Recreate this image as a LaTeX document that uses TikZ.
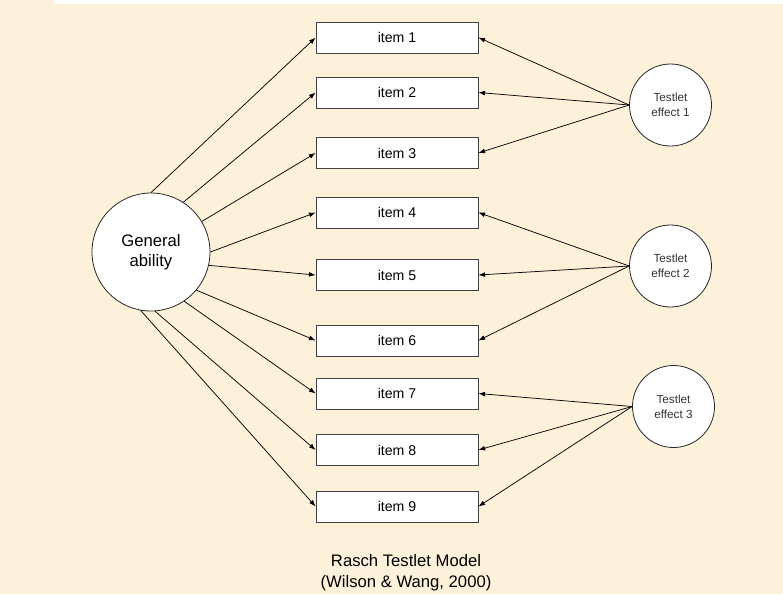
\documentclass[tikz,border=0pt]{standalone}
\usepackage{fontspec}
\setmainfont{Liberation Sans}
\definecolor{paperBeige}{HTML}{FDF1DA}
\usetikzlibrary{arrows.meta, positioning}

\begin{document}
\begin{tikzpicture}[x=0.75pt, y=-0.75pt,
    itembox/.style={draw=black!75, fill=white, line width=0.6pt,
      minimum width=121.5pt, minimum height=23.25pt, inner sep=0pt,
      font=\fontsize{10.6}{12}\selectfont},
    abilitycirc/.style={circle, draw=black!85, fill=white, line width=0.6pt,
      minimum size=88.5pt, inner sep=0pt, align=center,
      font=\fontsize{12.5}{15}\selectfont},
    testletcirc/.style={circle, draw=black!85, fill=white, line width=0.6pt,
      minimum size=61.5pt, inner sep=0pt, align=center, text=black!80,
      font=\fontsize{8.8}{11.2}\selectfont},
    link/.style={line width=0.55pt, -{Latex[length=5pt, width=3.6pt]}}]
    % page and background
    \useasboundingbox (0,0) rectangle (783,594);
    \fill[paperBeige] (0,0) rectangle (783,594);
    \fill[white] (54,0) rectangle (783,4);

    % items
    \foreach \i/\y in {1/37.5, 2/92.5, 3/153, 4/212.5, 5/275,
        6/340.5, 7/393.5, 8/450, 9/506.5}
      \node[itembox] (item\i) at (397,\y) {item \i};

    % latent traits
    \node[abilitycirc] (ability) at (151,252) {General\\ability};
    \node[testletcirc] (testlet1) at (670.5,105) {Testlet\\effect 1};
    \node[testletcirc] (testlet2) at (670.5,266) {Testlet\\effect 2};
    \node[testletcirc] (testlet3) at (673.5,406.5) {Testlet\\effect 3};

    % loadings of the general ability
    \foreach \i/\a in {1/90, 2/57, 3/31, 4/0, 5/-13, 6/-40, 7/-56, 8/-86, 9/-100}
      \draw[link] (ability.\a) -- (item\i.west);

    % loadings of the testlet effects
    \foreach \t/\i in {1/1, 1/2, 1/3, 2/4, 2/5, 2/6, 3/7, 3/8, 3/9}
      \draw[link] (testlet\t.west) -- (item\i.east);

    % caption
    \node[align=center, font=\fontsize{12.5}{15.8}\selectfont] (caption) at (406,573)
      {Rasch Testlet Model\\(Wilson \& Wang, 2000)};
\end{tikzpicture}
\end{document}
